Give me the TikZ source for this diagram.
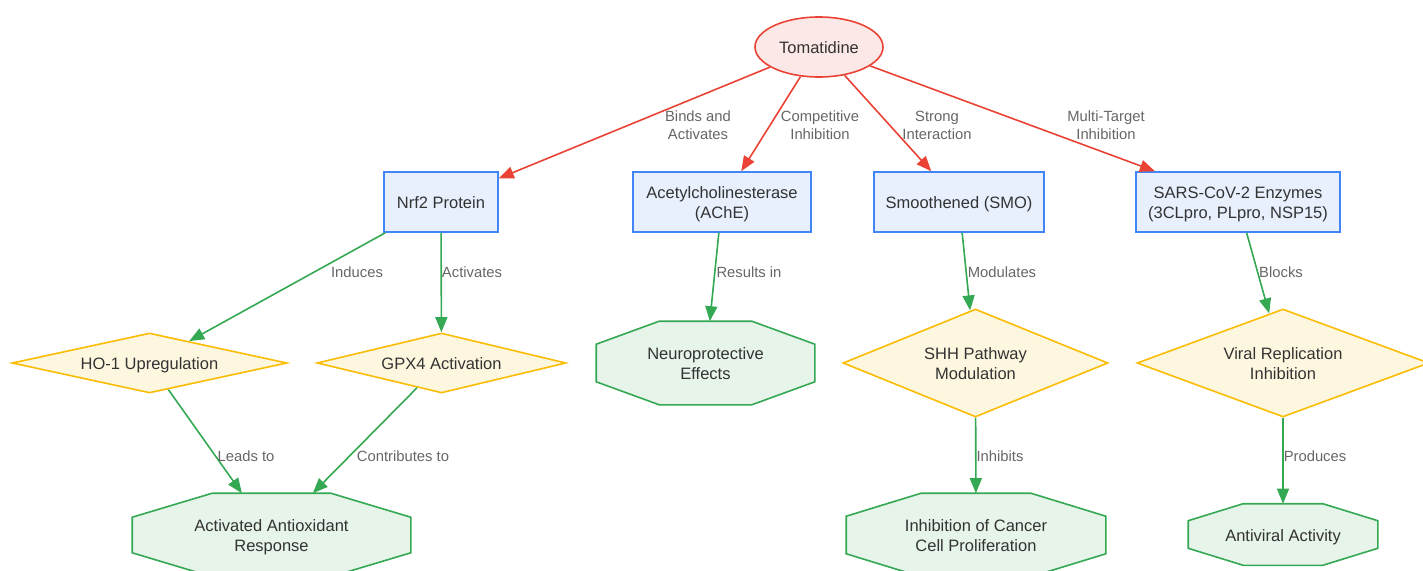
\documentclass[tikz,border=0pt]{standalone}
\usepackage{fontspec}
\setmainfont{Liberation Sans}
\usetikzlibrary{shapes.geometric,arrows.meta,backgrounds}
\definecolor{redS}{HTML}{EA4335}
\definecolor{redF}{HTML}{FCE8E6}
\definecolor{bluS}{HTML}{4285F4}
\definecolor{bluF}{HTML}{E8F0FE}
\definecolor{yelS}{HTML}{FBBC04}
\definecolor{yelF}{HTML}{FEF7E0}
\definecolor{grnS}{HTML}{34A853}
\definecolor{grnF}{HTML}{E6F4EA}
\definecolor{txt}{HTML}{333333}
\definecolor{lbl}{HTML}{666666}
\newcommand\firstln{\rule{0pt}{16pt}}
\tikzset{
  base/.style={inner sep=0pt, align=center, text=txt, font=\fontsize{16.5}{20}\selectfont, line width=1.6pt,
    execute at begin node={\rule{0pt}{16.5pt}}, text depth=3.2pt},
  startnode/.style={base, ellipse, draw=redS, fill=redF},
  protbox/.style={base, rectangle, draw=bluS, fill=bluF, minimum height=60pt},
  effdiam/.style={base, diamond, draw=yelS, fill=yelF},
  outbox/.style={base, rectangle, draw=none},
  octline/.style={draw=grnS, fill=grnF, line width=1.6pt, line join=miter},
  redarrow/.style={draw=redS, line width=1.6pt, -{Triangle[length=15pt,width=12pt]}},
  grnarrow/.style={draw=grnS, line width=1.6pt, -{Triangle[length=15pt,width=12pt]}},
  elabel/.style={text=lbl, align=center, inner sep=0pt, font=\fontsize{14.8}{18}\selectfont},
}
\newcommand\drawocto[3]{%
  \begin{pgfonlayer}{background}
  \path[octline] ([xshift=#2]#1.north west) -- ([xshift=-#2]#1.north east)
    -- ([yshift=-#3]#1.north east) -- ([yshift=#3]#1.south east)
    -- ([xshift=-#2]#1.south east) -- ([xshift=#2]#1.south west)
    -- ([yshift=#3]#1.south west) -- ([yshift=-#3]#1.north west) -- cycle;
  \end{pgfonlayer}}
\begin{document}
\begin{tikzpicture}[x=1pt,y=-1pt]
\useasboundingbox (0,0) rectangle (1423,570);
% top
\node[startnode, minimum width=128pt, minimum height=60pt] (tom) at (819,47) {Tomatidine};
% targets
\node[protbox, minimum width=114pt] (nrf2) at (441,202) {Nrf2 Protein};
\node[protbox, minimum width=178pt] (ache) at (722,202) {\firstln Acetylcholinesterase\\(AChE)};
\node[protbox, minimum width=170pt] (smo) at (959,202) {Smoothened (SMO)};
\node[protbox, minimum width=204pt] (sars) at (1238,202) {\firstln SARS-CoV-2 Enzymes\\(3CLpro, PLpro, NSP15)};
% mechanisms
\node[effdiam, aspect=4.583, minimum width=275pt, minimum height=60pt] (ho1) at (149.5,363) {HO-1 Upregulation};
\node[effdiam, aspect=4.15, minimum width=249pt, minimum height=60pt] (gpx4) at (441.5,363) {GPX4 Activation};
\node[outbox, minimum width=217pt, minimum height=82pt] (neuro) at (705.5,363) {\firstln Neuroprotective\\Effects};
\node[effdiam, aspect=2.454, minimum width=265pt, minimum height=108pt] (shh) at (975.5,363) {\firstln SHH Pathway\\Modulation};
\node[effdiam, aspect=2.704, minimum width=292pt, minimum height=108pt] (viral) at (1283,363) {\firstln Viral Replication\\Inhibition};
% outcomes
\node[outbox, minimum width=277pt, minimum height=82pt] (antiox) at (271.5,535) {\firstln Activated Antioxidant\\Response};
\node[outbox, minimum width=258pt, minimum height=82pt] (cancer) at (976,535) {\firstln Inhibition of Cancer\\Cell Proliferation};
\node[outbox, minimum width=188pt, minimum height=60pt] (antiviral) at (1283,534.5) {Antiviral Activity};
\drawocto{neuro}{63pt}{23pt}
\drawocto{antiox}{80pt}{24pt}
\drawocto{cancer}{75pt}{23pt}
\drawocto{antiviral}{55pt}{17pt}
% connectors
\draw[redarrow] (tom) -- (nrf2);
\draw[redarrow] (tom) -- (ache);
\draw[redarrow] (tom) -- (smo);
\draw[redarrow] (tom) -- (sars);
\draw[grnarrow] (nrf2) -- (ho1);
\draw[grnarrow] (nrf2) -- (gpx4);
\draw[grnarrow] (ache) -- (neuro);
\draw[grnarrow] (smo) -- (shh);
\draw[grnarrow] (sars) -- (viral);
\draw[grnarrow] (ho1) -- (antiox);
\draw[grnarrow] (gpx4) -- (antiox);
\draw[grnarrow] (shh) -- (cancer);
\draw[grnarrow] (viral) -- (antiviral);
% labels
\node[elabel] (l1) at (698,125) {Binds and\\Activates};
\node[elabel] (l2) at (820,125) {Competitive\\Inhibition};
\node[elabel] (l3) at (937,125) {Strong\\Interaction};
\node[elabel] (l4) at (1106,125) {Multi-Target\\Inhibition};
\node[elabel] (l5) at (357,272) {Induces};
\node[elabel] (l6) at (472,272) {Activates};
\node[elabel] (l7) at (749,272) {Results in};
\node[elabel] (l8) at (1002,272) {Modulates};
\node[elabel] (l9) at (1281,272) {Blocks};
\node[elabel] (l10) at (246,456) {Leads to};
\node[elabel] (l11) at (403,456) {Contributes to};
\node[elabel] (l12) at (1000,456) {Inhibits};
\node[elabel] (l13) at (1315,456) {Produces};
\end{tikzpicture}
\end{document}
